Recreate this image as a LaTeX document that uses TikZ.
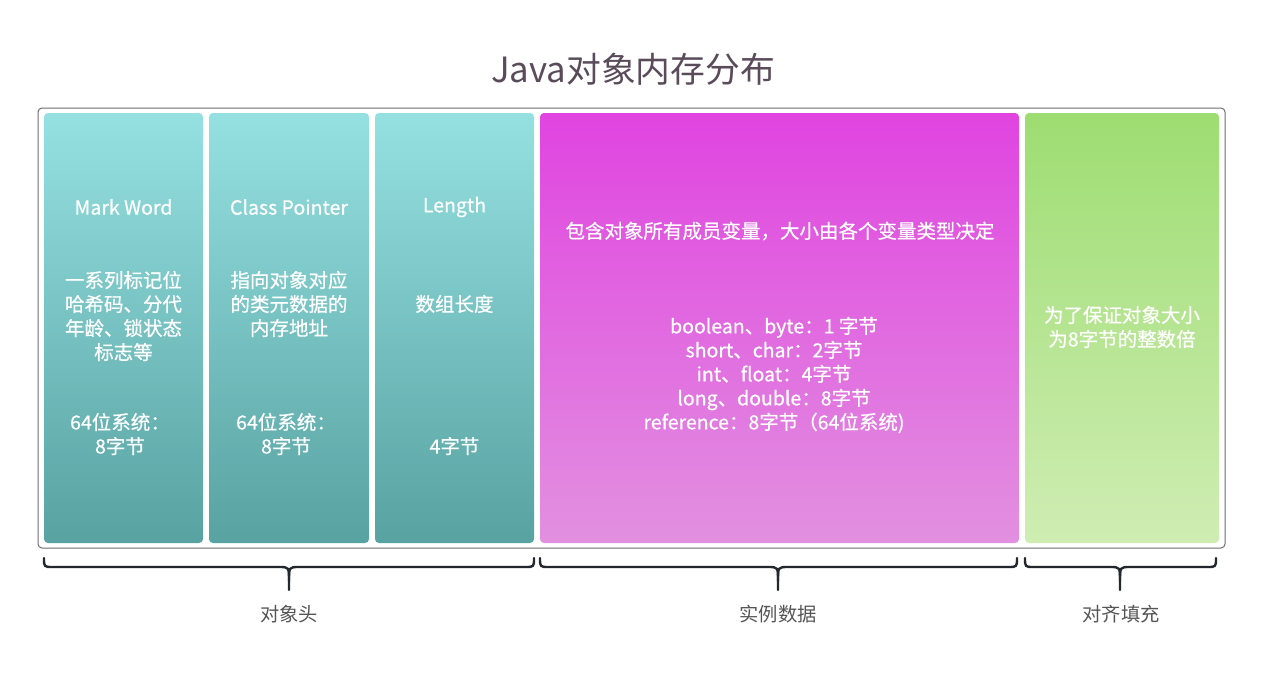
\documentclass[tikz,border=0pt]{standalone}
\usepackage{fontspec}
\setmainfont{Noto Sans CJK SC}
\newfontfamily\boxfont{Noto Sans CJK SC}[FakeBold=0.6]
\usetikzlibrary{calc}
\begin{document}
\begin{tikzpicture}[x=1pt,y=-1pt,
  colbox/.style={rounded corners=4pt, draw=none, shading=axis, inner sep=0pt},
  wtxt/.style={text=white, align=center, inner sep=0pt, font=\boxfont\fontsize{19.5}{24}\selectfont},
  grouplbl/.style={text=labgray, inner sep=0pt, font=\fontsize{19.3}{24}\selectfont},
  bracepath/.style={draw=braceblk, line width=2.4pt, line cap=round, line join=round}
]
\definecolor{tealtop}{HTML}{95E0E0}
\definecolor{tealbot}{HTML}{58A2A2}
\definecolor{magtop}{HTML}{E044E0}
\definecolor{magbot}{HTML}{E290E0}
\definecolor{grntop}{HTML}{9EDD72}
\definecolor{grnbot}{HTML}{CFEDB3}
\definecolor{titlecol}{HTML}{5A4B5A}
\definecolor{labgray}{HTML}{555555}
\definecolor{braceblk}{HTML}{22282E}
\definecolor{framecol}{HTML}{6E6E6E}

\useasboundingbox (0,0) rectangle (1262,681);
\fill[white] (0,0) rectangle (1262,681);

% title
\node[text=titlecol, inner sep=0pt, font=\fontsize{34.8}{40}\selectfont] (title) at (633,69) {Java对象内存分布};

% outer frame
\node[draw=framecol, line width=1pt, rounded corners=4pt, minimum width=1187pt, minimum height=440pt, inner sep=0pt] (frame) at (631.5,328) {};

% boxes
\node[colbox, top color=tealtop, bottom color=tealbot, minimum width=159pt, minimum height=430pt] (b1) at (123.5,328) {};
\node[colbox, top color=tealtop, bottom color=tealbot, minimum width=160pt, minimum height=430pt] (b2) at (289,328) {};
\node[colbox, top color=tealtop, bottom color=tealbot, minimum width=159pt, minimum height=430pt] (b3) at (454.5,328) {};
\node[colbox, top color=magtop, bottom color=magbot, minimum width=479pt, minimum height=430pt] (b4) at (779.5,328) {};
\node[colbox, top color=grntop, bottom color=grnbot, minimum width=194pt, minimum height=430pt] (b5) at (1122,328) {};

% box 1
\node[wtxt] (t1a) at (123.5,207) {Mark Word};
\node[wtxt] (t1b) at (123.5,316) {一系列标记位\\哈希码、分代\\年龄、锁状态\\标志等};
\node[wtxt] (t1c) at (120,434) {64位系统：\\8字节};
% box 2
\node[wtxt] (t2a) at (289,207) {Class Pointer};
\node[wtxt] (t2b) at (289,304) {指向对象对应\\的类元数据的\\内存地址};
\node[wtxt] (t2c) at (286,434) {64位系统：\\8字节};
% box 3
\node[wtxt] (t3a) at (454.5,207) {Length};
\node[wtxt] (t3b) at (454.5,304) {数组长度};
\node[wtxt] (t3c) at (454.5,446) {4字节};
% box 4
\node[wtxt] (t4a) at (780,231) {包含对象所有成员变量，大小由各个变量类型决定};
\node[wtxt] (t4b) at (774,375) {boolean、byte：1 字节\\short、char：2字节\\int、float：4字节\\long、double：8字节\\reference：8字节（64位系统)};
% box 5
\node[wtxt] (t5a) at (1122,327) {为了保证对象大小\\为8字节的整数倍};

% braces
\coordinate (br1l) at (44,558);
\coordinate (br1r) at (534,558);
\coordinate (br1t) at (289,590);
\coordinate (br2l) at (540,558);
\coordinate (br2r) at (1017,558);
\coordinate (br2t) at (778,590);
\coordinate (br3l) at (1025,558);
\coordinate (br3r) at (1216,558);
\coordinate (br3t) at (1120,590);

\draw[bracepath] (br1l) .. controls ($(br1l)+(0,9)$) .. ($(br1l)+(9,9)$) -- ($(br1t)+(-10,-23)$) .. controls ($(br1t)+(0,-23)$) .. ($(br1t)+(0,-9)$) -- (br1t);
\draw[bracepath] (br1r) .. controls ($(br1r)+(0,9)$) .. ($(br1r)+(-9,9)$) -- ($(br1t)+(10,-23)$) .. controls ($(br1t)+(0,-23)$) .. ($(br1t)+(0,-9)$);
\draw[bracepath] (br2l) .. controls ($(br2l)+(0,9)$) .. ($(br2l)+(9,9)$) -- ($(br2t)+(-10,-23)$) .. controls ($(br2t)+(0,-23)$) .. ($(br2t)+(0,-9)$) -- (br2t);
\draw[bracepath] (br2r) .. controls ($(br2r)+(0,9)$) .. ($(br2r)+(-9,9)$) -- ($(br2t)+(10,-23)$) .. controls ($(br2t)+(0,-23)$) .. ($(br2t)+(0,-9)$);
\draw[bracepath] (br3l) .. controls ($(br3l)+(0,9)$) .. ($(br3l)+(9,9)$) -- ($(br3t)+(-10,-23)$) .. controls ($(br3t)+(0,-23)$) .. ($(br3t)+(0,-9)$) -- (br3t);
\draw[bracepath] (br3r) .. controls ($(br3r)+(0,9)$) .. ($(br3r)+(-9,9)$) -- ($(br3t)+(10,-23)$) .. controls ($(br3t)+(0,-23)$) .. ($(br3t)+(0,-9)$);

% group labels
\node[grouplbl] (g1) at (289,614) {对象头};
\node[grouplbl] (g2) at (778,614) {实例数据};
\node[grouplbl] (g3) at (1121,614) {对齐填充};
\end{tikzpicture}
\end{document}
